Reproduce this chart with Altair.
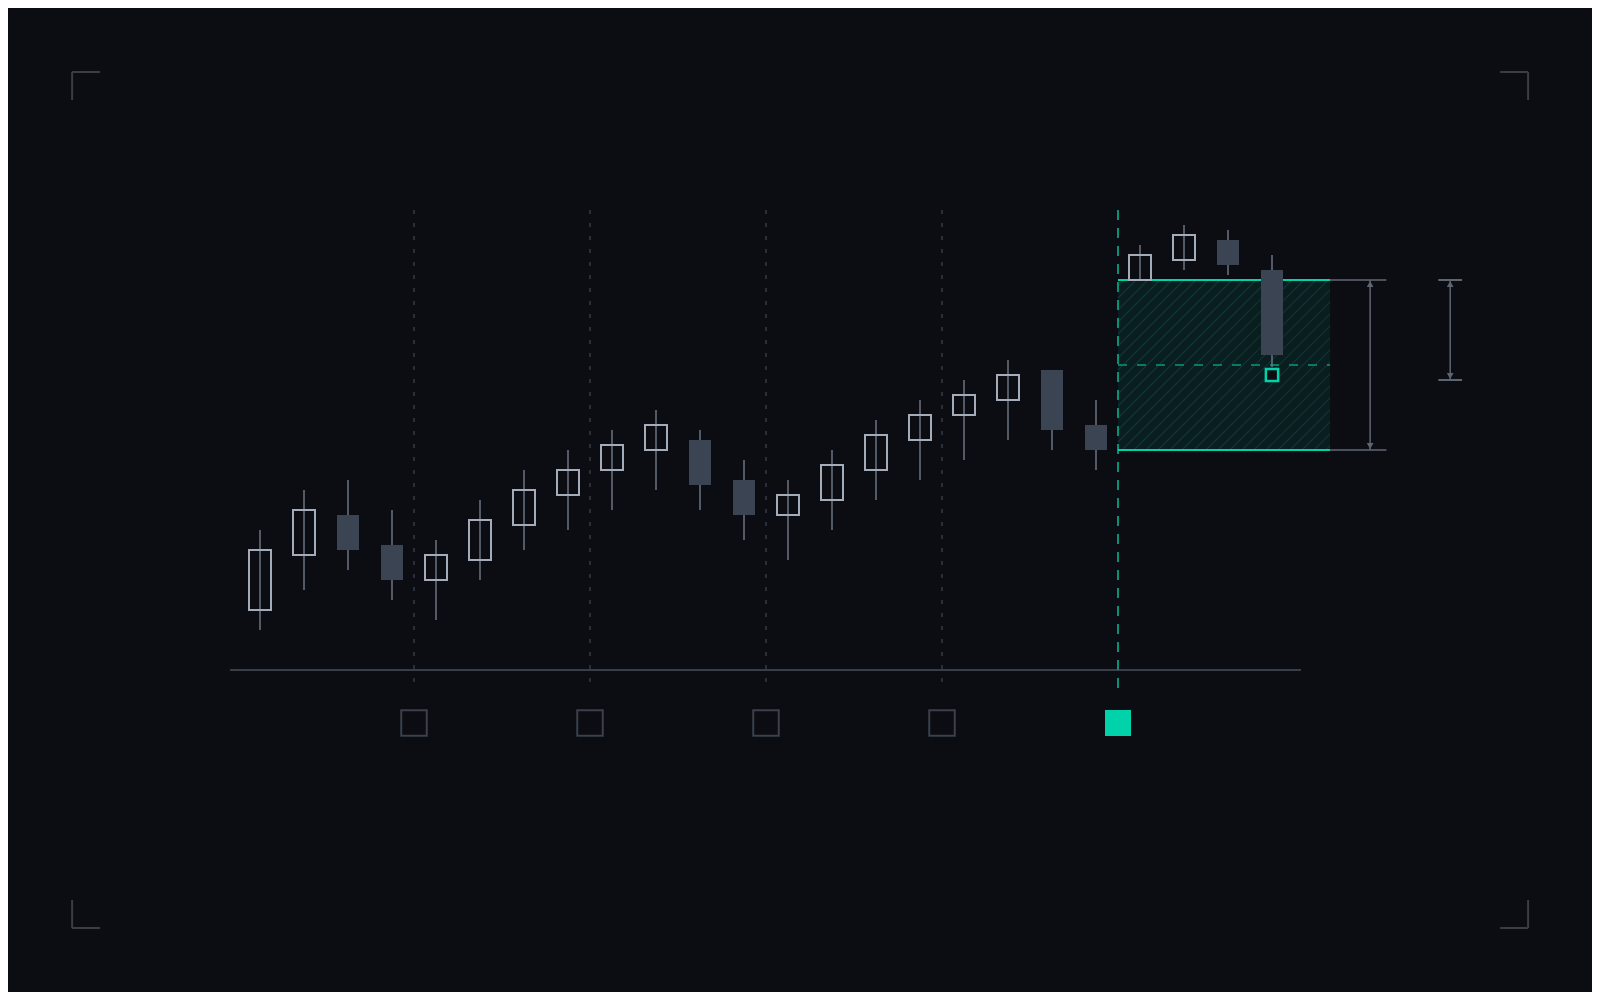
import altair as alt
import pandas as pd
import numpy as np

# ---------------- data ----------------
candle_idx = list(range(24))
opens  = [6.0, 11.5, 15.5, 12.5, 9.0, 11.0, 14.5, 17.5, 20.0, 22.0, 23.0, 19.0,
          15.5, 17.0, 20.0, 23.0, 25.5, 27.0, 30.0, 24.5, 39.0, 41.0, 43.0, 40.0]
closes = [12.0, 16.0, 12.0, 9.0, 11.5, 15.0, 18.0, 20.0, 22.5, 24.5, 18.5, 15.5,
          17.5, 20.5, 23.5, 25.5, 27.5, 29.5, 24.0, 22.0, 41.5, 43.5, 40.5, 31.5]
highs  = [14.0, 18.0, 19.0, 16.0, 13.0, 17.0, 20.0, 22.0, 24.0, 26.0, 24.0, 21.0,
          19.0, 22.0, 25.0, 27.0, 29.0, 31.0, 30.0, 27.0, 42.5, 44.5, 44.0, 41.5]
lows   = [4.0, 8.0, 10.0, 7.0, 5.0, 9.0, 12.0, 14.0, 16.0, 18.0, 16.0, 13.0,
          11.0, 14.0, 17.0, 19.0, 21.0, 23.0, 22.0, 20.0, 39.0, 40.0, 39.5, 30.3]

separators = [3.5, 7.5, 11.5, 15.5]
breakout_x = 19.5
sep_y = [-1.2, 46.0]
breakout_y = [-1.8, 46.0]
baseline_x = [-0.68, 23.66]
baseline_y = 0.0

zone_top, zone_bottom, zone_mid = 39.0, 22.0, 30.5
zone_right = 24.32
ext_right = 25.6
arrow1_x = 25.23
arrow2_x = 27.05
arrow2_y = [39.0, 29.0]
cap_half = 0.27
target_x, target_y = 23.0, 29.5

marker_y = -5.3
bracket_x = [-4.27, 28.82]
bracket_y = [59.8, -25.8]
bracket_len_x, bracket_len_y = 0.636, 2.8

# ---------------- style ----------------
BG = "#0b0d12"
HOLLOW = "#a3acb8"
WICK = "#6c7583"
FILLED = "#3b4452"
SEP = "#363c47"
BASE = "#4a505c"
TEAL = "#00d2aa"
TEAL_DIM = "#0b8f75"
TEAL_MID = "#0b7a64"
ZONE_FILL = "#0a1e20"
HATCH = "#0e3833"
ARROW = "#5d6573"
BRACKET = "#383d46"
MARK_OUT = "#3a404c"

W, H = 1584, 984
XD = [-5.7273, 30.2727]
YD = [-32.2, 66.2]
PX_X = W / (XD[1] - XD[0])
PX_Y = H / (YD[1] - YD[0])


def X(f="x"):
    return alt.X(f, type="quantitative", scale=alt.Scale(domain=XD, nice=False, zero=False), axis=None)


def Y(f="y"):
    return alt.Y(f, type="quantitative", scale=alt.Scale(domain=YD, nice=False, zero=False), axis=None)


candles = pd.DataFrame({"i": candle_idx, "o": opens, "c": closes, "h": highs, "l": lows})
candles["x0"] = candles["i"] - 0.25
candles["x1"] = candles["i"] + 0.25
candles["lo"] = candles[["o", "c"]].min(axis=1)
candles["hi"] = candles[["o", "c"]].max(axis=1)
up = candles[candles["c"] >= candles["o"]]
down = candles[candles["c"] < candles["o"]]

layers = []

# corner brackets
br = []
for bx in bracket_x:
    for by in bracket_y:
        sx = 1 if bx == bracket_x[0] else -1
        sy = -1 if by == bracket_y[0] else 1
        br.append({"x": bx, "x2": bx + sx * bracket_len_x, "y": by, "y2": by})
        br.append({"x": bx, "x2": bx, "y": by, "y2": by + sy * bracket_len_y})
layers.append(alt.Chart(pd.DataFrame(br)).mark_rule(color=BRACKET, strokeWidth=2).encode(
    x=X(), x2="x2", y=Y(), y2="y2"))

# zone fill
zone_df = pd.DataFrame({"x": [breakout_x], "x2": [zone_right], "y": [zone_bottom], "y2": [zone_top]})
layers.append(alt.Chart(zone_df).mark_rect(color=ZONE_FILL, opacity=1).encode(
    x=X(), x2="x2", y=Y(), y2="y2"))

# hatch lines (derived from zone bounds)
wpx = (zone_right - breakout_x) * PX_X
hpx = (zone_top - zone_bottom) * PX_Y
hatch = []
for c in np.arange(6, wpx + hpx, 12.0):
    xa, xb = max(0.0, c - hpx), min(wpx, c)
    if xb - xa < 1:
        continue
    hatch.append({"x": breakout_x + xa / PX_X, "y": zone_top - (c - xa) / PX_Y,
                  "x2": breakout_x + xb / PX_X, "y2": zone_top - (c - xb) / PX_Y})
layers.append(alt.Chart(pd.DataFrame(hatch)).mark_rule(color=HATCH, strokeWidth=1.2).encode(
    x=X(), x2="x2", y=Y(), y2="y2"))

# separators
sep_df = pd.DataFrame({"x": separators, "y": sep_y[0], "y2": sep_y[1]})
layers.append(alt.Chart(sep_df).mark_rule(color=SEP, strokeWidth=1.5, strokeDash=[4, 9]).encode(
    x=X(), y=Y(), y2="y2"))

# baseline
layers.append(alt.Chart(pd.DataFrame({"x": [baseline_x[0]], "x2": [baseline_x[1]], "y": [baseline_y]}))
              .mark_rule(color=BASE, strokeWidth=1.5).encode(x=X(), x2="x2", y=Y()))

# breakout line
layers.append(alt.Chart(pd.DataFrame({"x": [breakout_x], "y": [breakout_y[0]], "y2": [breakout_y[1]]}))
              .mark_rule(color=TEAL_DIM, strokeWidth=2, strokeDash=[10, 8]).encode(x=X(), y=Y(), y2="y2"))

# zone mid line
layers.append(alt.Chart(pd.DataFrame({"x": [breakout_x], "x2": [zone_right], "y": [zone_mid]}))
              .mark_rule(color=TEAL_MID, strokeWidth=2, strokeDash=[9, 10]).encode(x=X(), x2="x2", y=Y()))

# gray extensions
ext_df = pd.DataFrame({"x": [zone_right] * 2, "x2": [ext_right] * 2, "y": [zone_top, zone_bottom]})
layers.append(alt.Chart(ext_df).mark_rule(color=BASE, strokeWidth=2).encode(x=X(), x2="x2", y=Y()))

# zone top/bottom teal lines
zl_df = pd.DataFrame({"x": [breakout_x] * 2, "x2": [zone_right] * 2, "y": [zone_top, zone_bottom]})
layers.append(alt.Chart(zl_df).mark_rule(color=TEAL, strokeWidth=2).encode(x=X(), x2="x2", y=Y()))

# arrows
arr_df = pd.DataFrame({"x": [arrow1_x, arrow2_x], "y": [zone_bottom, arrow2_y[1]],
                       "y2": [zone_top, arrow2_y[0]]})
layers.append(alt.Chart(arr_df).mark_rule(color=ARROW, strokeWidth=1.5).encode(x=X(), y=Y(), y2="y2"))
caps_df = pd.DataFrame({"x": [arrow2_x - cap_half] * 2, "x2": [arrow2_x + cap_half] * 2, "y": arrow2_y})
layers.append(alt.Chart(caps_df).mark_rule(color=ARROW, strokeWidth=2).encode(x=X(), x2="x2", y=Y()))
heads_up = pd.DataFrame({"x": [arrow1_x, arrow2_x], "y": [zone_top, arrow2_y[0]]})
heads_dn = pd.DataFrame({"x": [arrow1_x, arrow2_x], "y": [zone_bottom, arrow2_y[1]]})
layers.append(alt.Chart(heads_up).mark_point(shape="triangle-up", filled=True, size=45, color=ARROW,
                                               opacity=1, yOffset=4).encode(x=X(), y=Y()))
layers.append(alt.Chart(heads_dn).mark_point(shape="triangle-down", filled=True, size=45, color=ARROW,
                                               opacity=1, yOffset=-4).encode(x=X(), y=Y()))

# wicks
layers.append(alt.Chart(candles).mark_rule(color=WICK, strokeWidth=1.5).encode(
    x=X("i"), y=Y("l"), y2="h"))

# bodies
layers.append(alt.Chart(down).mark_rect(color=FILLED, opacity=1).encode(
    x=X("x0"), x2="x1", y=Y("lo"), y2="hi"))
layers.append(alt.Chart(up).mark_rect(fill=None, stroke=HOLLOW, strokeWidth=2, fillOpacity=0).encode(
    x=X("x0"), x2="x1", y=Y("lo"), y2="hi"))

# target marker
layers.append(alt.Chart(pd.DataFrame({"x": [target_x], "y": [target_y]})).mark_point(
    shape="square", size=150, fill=BG, stroke=TEAL, strokeWidth=2.5, opacity=1, filled=True).encode(
    x=X(), y=Y()))

# bottom markers
mk_df = pd.DataFrame({"x": separators, "y": [marker_y] * len(separators)})
layers.append(alt.Chart(mk_df).mark_point(shape="square", size=650, fill=BG, stroke=MARK_OUT,
                                           strokeWidth=2, opacity=1, filled=True).encode(x=X(), y=Y()))
layers.append(alt.Chart(pd.DataFrame({"x": [breakout_x], "y": [marker_y]})).mark_point(
    shape="square", size=676, color=TEAL, opacity=1, filled=True).encode(x=X(), y=Y()))

chart = alt.layer(*layers).properties(
    width=W, height=H, padding=0, background=BG,
    autosize=alt.AutoSizeParams(type="none"),
    usermeta={"embedOptions": {"defaultStyle": "html, body { background: #0b0d12 !important; }"}},
).configure_view(stroke=None)

chart.save("out.html", embed_options={"renderer": "svg", "actions": False})
